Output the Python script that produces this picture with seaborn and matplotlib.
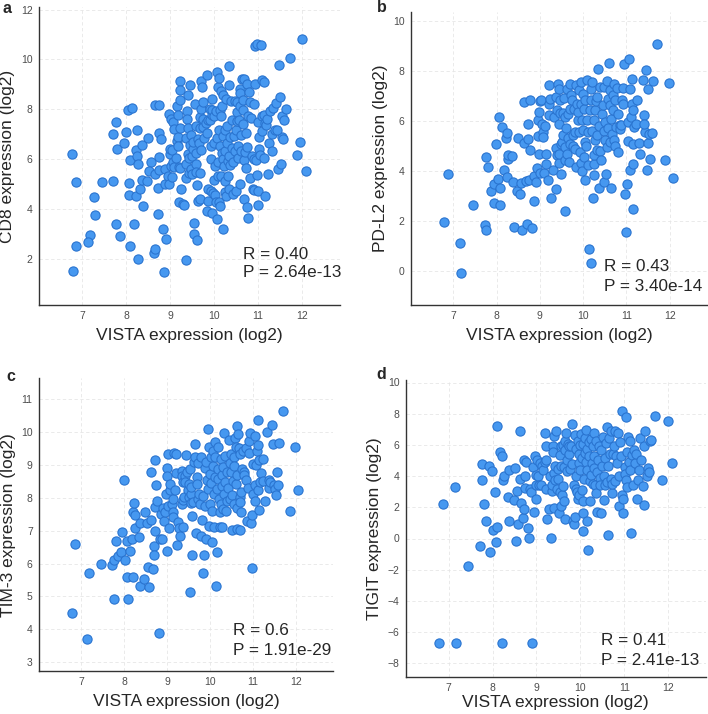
import matplotlib
matplotlib.use('Agg')
import matplotlib.pyplot as plt
import seaborn as sns
import pandas as pd

# panel a: VISTA vs CD8
vista_a = [6.78, 6.87, 6.87, 6.79, 7.27, 7.29, 7.17, 7.14, 7.46, 7.70, 7.71, 7.77, 7.80, 7.77, 7.86, 7.95,
           8.01, 8.04, 8.13, 8.06, 8.07, 8.09, 8.09, 8.19, 8.22, 8.23, 8.25, 8.26, 8.27, 8.27, 8.31, 8.37,
           8.37, 8.39, 8.48, 8.51, 8.56, 8.53, 8.63, 8.66, 8.66, 8.66, 8.75, 8.73, 8.73, 8.75, 8.76, 8.76,
           8.80, 8.83, 8.86, 8.88, 8.88, 8.91, 8.95, 8.97, 8.97, 9.00, 9.00, 9.02, 9.02, 9.04, 9.05, 9.06,
           9.07, 9.08, 9.10, 9.13, 9.15, 9.16, 9.17, 9.17, 9.19, 9.20, 9.22, 9.23, 9.23, 9.23, 9.23, 9.21,
           9.26, 9.29, 9.31, 9.36, 9.36, 9.37, 9.37, 9.39, 9.39, 9.40, 9.41, 9.41, 9.43, 9.44, 9.45, 9.45,
           9.47, 9.47, 9.49, 9.50, 9.52, 9.53, 9.54, 9.55, 9.57, 9.58, 9.58, 9.59, 9.59, 9.61, 9.61, 9.63,
           9.64, 9.65, 9.67, 9.67, 9.69, 9.69, 9.70, 9.70, 9.71, 9.72, 9.74, 9.74, 9.76, 9.77, 9.81, 9.83,
           9.83, 9.85, 9.86, 9.87, 9.87, 9.90, 9.91, 9.93, 9.93, 9.94, 9.95, 9.96, 9.96, 9.96, 9.97, 9.99,
           10.00, 10.00, 10.02, 10.03, 10.05, 10.05, 10.06, 10.06, 10.07, 10.08, 10.09, 10.10, 10.11, 10.12,
           10.12, 10.13, 10.14, 10.14, 10.15, 10.15, 10.16, 10.18, 10.18, 10.20, 10.20, 10.21, 10.21, 10.23,
           10.24, 10.25, 10.25, 10.26, 10.28, 10.28, 10.29, 10.30, 10.31, 10.31, 10.33, 10.34, 10.35, 10.35,
           10.37, 10.37, 10.39, 10.40, 10.40, 10.43, 10.44, 10.46, 10.47, 10.47, 10.49, 10.50, 10.52, 10.52,
           10.53, 10.54, 10.55, 10.56, 10.58, 10.59, 10.59, 10.60, 10.61, 10.62, 10.63, 10.65, 10.66, 10.67,
           10.68, 10.69, 10.69, 10.71, 10.72, 10.73, 10.75, 10.75, 10.76, 10.78, 10.78, 10.80, 10.81, 10.82,
           10.84, 10.86, 10.88, 10.90, 10.91, 10.92, 10.94, 10.94, 10.96, 10.97, 10.98, 10.99, 11.00, 11.01,
           11.03, 11.03, 11.05, 11.07, 11.09, 11.09, 11.10, 11.13, 11.13, 11.14, 11.15, 11.16, 11.18, 11.20,
           11.22, 11.26, 11.28, 11.32, 11.32, 11.35, 11.40, 11.39, 11.46, 11.47, 11.51, 11.52, 11.54, 11.55,
           11.57, 11.58, 11.63, 11.72, 11.89, 11.95, 12.00, 12.10, 11.43]
cd8 = [6.21, 5.10, 2.51, 1.51, 4.49, 3.76, 2.96, 2.67, 5.09, 5.12, 7.00, 7.49, 6.41, 3.38, 2.92, 6.63,
       7.09, 7.96, 8.07, 5.06, 4.54, 5.98, 2.51, 3.39, 4.51, 6.37, 6.14, 7.16, 5.82, 2.00, 4.82, 6.56,
       5.18, 4.11, 5.14, 6.83, 5.89, 5.54, 2.23, 2.40, 8.19, 5.42, 8.16, 3.78, 4.83, 7.04, 6.10, 5.58,
       6.82, 3.20, 1.47, 5.01, 5.60, 2.80, 5.34, 5.01, 7.82, 6.21, 6.41, 7.63, 5.73, 5.30, 6.38, 7.48,
       5.90, 5.68, 7.21, 6.06, 8.12, 6.72, 6.87, 7.79, 6.51, 5.68, 8.39, 9.13, 8.79, 7.25, 5.64, 4.27,
       4.80, 4.21, 4.17, 1.97, 5.25, 5.82, 6.85, 7.92, 7.63, 7.25, 8.59, 6.22, 6.06, 5.44, 6.56, 8.99,
       5.60, 6.95, 6.14, 5.40, 6.41, 6.68, 2.98, 3.44, 8.22, 6.25, 5.82, 7.32, 5.48, 2.74, 4.97, 6.82,
       4.31, 6.63, 7.25, 5.46, 4.38, 7.71, 6.38, 9.13, 8.03, 8.90, 8.28, 7.28, 7.63, 6.85, 7.45, 7.03,
       3.91, 9.37, 7.59, 4.81, 4.31, 8.02, 7.59, 6.52, 4.71, 6.01, 3.84, 8.42, 7.79, 7.99, 4.65, 5.16,
       7.75, 6.65, 5.72, 4.58, 7.95, 4.27, 9.49, 3.60, 6.85, 5.88, 5.32, 8.90, 7.16, 4.27,
       9.26, 6.52, 4.11, 7.99, 8.75, 5.34, 7.75, 8.12, 6.25, 3.20, 6.92, 8.59, 6.01, 5.72,
       4.68, 6.32, 5.14, 7.16, 4.51, 8.42, 6.65, 7.32, 5.32, 5.92, 8.97, 4.82, 9.73, 6.12,
       6.90, 5.76, 8.35, 7.59, 6.45, 4.62, 5.88, 6.92, 8.32, 6.34, 4.71, 7.16, 7.88, 7.52,
       8.28, 6.52, 6.05, 7.56, 5.01, 8.82, 8.12, 8.66, 6.96, 6.32, 9.23, 8.39, 7.99, 7.39,
       5.96, 4.41, 9.21, 6.28, 7.05, 5.65, 9.01, 4.07, 6.48, 3.64, 7.75, 8.68, 8.30, 5.25,
       7.66, 6.12, 4.81, 6.01, 4.78, 8.23, 9.01, 10.53, 5.98, 10.64, 5.38, 4.71, 7.49, 4.15,
       6.89, 6.41, 6.18, 10.58, 7.12, 7.75, 9.19, 6.06, 7.79, 9.09, 7.45, 4.51, 7.35, 7.63,
       5.40, 6.63, 7.92, 7.00, 6.32, 8.06, 8.26, 7.16, 5.61, 9.77, 8.50, 5.81, 6.89, 7.72,
       6.79, 7.56, 8.02, 10.06, 6.16, 6.68, 10.82, 5.54, 7.15]

# panel b: VISTA vs PD-L2
vista_b = [6.78, 6.87, 7.15, 7.17, 7.45, 7.72, 7.76, 7.76, 7.80, 7.86, 7.93, 7.95, 7.99, 8.02, 8.06, 8.08,
           8.08, 8.12, 8.18, 8.22, 8.23, 8.24, 8.26, 8.26, 8.36, 8.37, 8.39, 8.47, 8.50, 8.53, 8.56, 8.59,
           8.63, 8.63, 8.68, 8.70, 8.72, 8.73, 8.74, 8.76, 8.78, 8.82, 8.86, 8.87, 8.90, 8.93, 8.95, 8.96,
           8.99, 8.99, 9.00, 9.01, 9.03, 9.04, 9.06, 9.07, 9.09, 9.12, 9.13, 9.15, 9.18, 9.20, 9.21, 9.22,
           9.24, 9.26, 9.30, 9.33, 9.36, 9.37, 9.38, 9.39, 9.40, 9.41, 9.43, 9.43, 9.43, 9.45, 9.46, 9.47,
           9.48, 9.49, 9.51, 9.53, 9.54, 9.55, 9.57, 9.57, 9.58, 9.59, 9.60, 9.62, 9.63, 9.64, 9.65, 9.68,
           9.69, 9.70, 9.70, 9.72, 9.74, 9.76, 9.77, 9.78, 9.80, 9.82, 9.84, 9.84, 9.86, 9.87, 9.89, 9.90,
           9.91, 9.92, 9.94, 9.95, 9.95, 9.97, 9.97, 9.99, 10.00, 10.01, 10.03, 10.04, 10.05, 10.05, 10.07,
           10.08, 10.09, 10.10, 10.12, 10.14, 10.15, 10.17, 10.17, 10.18, 10.20, 10.21, 10.23, 10.24, 10.24,
           10.26, 10.26, 10.27, 10.28, 10.30, 10.31, 10.32, 10.32, 10.34, 10.36, 10.37, 10.38, 10.39, 10.41,
           10.43, 10.45, 10.47, 10.49, 10.49, 10.51, 10.51, 10.53, 10.54, 10.56, 10.57, 10.58, 10.60, 10.61,
           10.61, 10.63, 10.64, 10.65, 10.67, 10.68, 10.69, 10.71, 10.71, 10.73, 10.74, 10.76, 10.78, 10.80,
           10.81, 10.84, 10.85, 10.88, 10.90, 10.91, 10.92, 10.95, 10.97, 10.99, 11.01, 11.03, 11.04, 11.05,
           11.08, 11.09, 11.11, 11.12, 11.12, 11.14, 11.15, 11.16, 11.16, 11.18, 11.22, 11.24, 11.28, 11.32,
           11.38, 11.40, 11.43, 11.45, 11.47, 11.49, 11.50, 11.53, 11.55, 11.58, 11.61, 11.71, 11.88, 11.99,
           12.08, 11.41]
pdl2 = [1.93, 3.87, 1.09, -0.11, 2.63, 1.84, 1.64, 4.55, 4.16, 3.17, 3.47, 2.72, 5.08, 3.67, 6.16, 2.61,
        3.31, 5.75, 4.03, 5.33, 3.73, 5.53, 4.49, 4.63, 4.60, 3.55, 1.76, 3.20, 5.33, 3.07, 3.52, 1.63,
        6.76, 5.13, 3.59, 1.88, 5.29, 5.89, 3.63, 6.83, 4.83, 1.71, 2.80, 3.79, 3.53, 4.09, 5.39, 6.03,
        6.36, 4.67, 3.89, 6.80, 6.85, 5.87, 5.56, 5.36, 3.92, 5.79, 4.68, 4.29, 3.63, 6.67, 6.23, 7.43,
        6.89, 2.89, 4.03, 6.16, 3.25, 4.92, 6.96, 6.45, 4.63, 7.49, 7.29, 4.32, 5.87, 4.68, 6.83, 6.32,
        3.87, 5.09, 5.16, 6.32, 5.43, 6.93, 4.45, 6.16, 2.40, 4.96, 5.73, 4.67, 7.29, 5.33, 6.29, 4.37,
        7.49, 5.09, 6.49, 7.03, 6.85, 5.43, 5.00, 6.49, 5.56, 4.89, 4.16, 7.43, 6.69, 6.03, 6.36, 7.25,
        5.56, 4.76, 4.33, 6.69, 7.56, 6.05, 4.00, 5.65, 7.09, 4.56, 6.49, 3.63, 6.83, 5.16, 5.00,
        7.63, 6.03, 5.56, 4.23, 0.85, 6.43, 7.29, 6.83, 0.29, 5.60, 7.56, 2.89, 4.29, 6.03,
        3.83, 4.63, 6.43, 5.23, 6.80, 4.83, 5.43, 6.96, 8.09, 3.29, 5.79, 7.36, 4.80, 4.45,
        6.29, 6.63, 3.56, 7.36, 5.60, 5.25, 5.96, 3.87, 4.96, 7.59, 6.87, 5.73, 8.32, 6.63,
        5.16, 7.25, 3.29, 6.09, 5.49, 7.03, 6.43, 5.25, 7.47, 6.83, 5.00, 5.76, 7.33, 4.76,
        6.29, 5.83, 5.69, 5.83, 6.85, 7.33, 6.69, 8.29, 3.05, 1.56, 3.47, 5.96, 5.19, 8.49,
        4.03, 7.29, 6.16, 7.67, 6.67, 6.45, 5.09, 2.47, 4.29, 5.76, 5.87, 6.83, 5.12, 4.67,
        7.65, 6.23, 5.56, 8.03, 4.03, 7.29, 5.12, 5.49, 4.49, 5.52, 7.60, 9.07, 4.43, 7.52,
        3.69, 5.87]

# panel c: VISTA vs TIM-3
vista_c = [6.78, 6.87, 7.15, 7.18, 7.46, 7.71, 7.76, 7.76, 7.81, 7.87, 7.93, 7.96, 7.99, 8.03, 8.06, 8.07,
           8.09, 8.13, 8.18, 8.22, 8.20, 8.24, 8.26, 8.25, 8.36, 8.37, 8.37, 8.47, 8.50, 8.53, 8.55, 8.59,
           8.62, 8.64, 8.67, 8.70, 8.71, 8.72, 8.73, 8.73, 8.74, 8.78, 8.82, 8.84, 8.86, 8.88, 8.90, 8.94,
           8.95, 8.97, 8.99, 9.01, 9.01, 9.02, 9.03, 9.05, 9.07, 9.08, 9.11, 9.13, 9.14, 9.15, 9.16, 9.18,
           9.21, 9.22, 9.24, 9.26, 9.28, 9.30, 9.34, 9.35, 9.36, 9.37, 9.38, 9.38, 9.40, 9.41, 9.43, 9.45,
           9.47, 9.49, 9.51, 9.52, 9.53, 9.54, 9.55, 9.55, 9.57, 9.58, 9.59, 9.61, 9.62, 9.65, 9.66, 9.67,
           9.69, 9.70, 9.72, 9.72, 9.74, 9.76, 9.79, 9.80, 9.82, 9.84, 9.85, 9.86, 9.88, 9.89, 9.92, 9.92,
           9.93, 9.95, 9.96, 9.97, 9.98, 10.00, 10.01, 10.02, 10.03, 10.05, 10.06, 10.07, 10.08, 10.09,
           10.09, 10.11, 10.13, 10.13, 10.15, 10.16, 10.17, 10.19, 10.19, 10.20, 10.21, 10.23, 10.23, 10.25,
           10.26, 10.27, 10.28, 10.29, 10.30, 10.31, 10.33, 10.33, 10.35, 10.36, 10.38, 10.40, 10.40, 10.42,
           10.44, 10.46, 10.47, 10.48, 10.50, 10.51, 10.52, 10.53, 10.55, 10.56, 10.57, 10.59, 10.60, 10.61,
           10.62, 10.63, 10.63, 10.64, 10.66, 10.67, 10.69, 10.69, 10.70, 10.71, 10.73, 10.73, 10.75, 10.77,
           10.79, 10.80, 10.83, 10.84, 10.87, 10.89, 10.90, 10.92, 10.94, 10.96, 10.97, 10.98, 11.00, 11.01,
           11.04, 11.04, 11.06, 11.07, 11.09, 11.11, 11.11, 11.13, 11.14, 11.15, 11.17, 11.19, 11.23, 11.24,
           11.28, 11.34, 11.37, 11.38, 11.41, 11.44, 11.48, 11.50, 11.52, 11.54, 11.56, 11.58, 11.60, 11.69,
           11.86, 11.98, 12.06]
tim3 = [4.49, 6.59, 3.71, 5.70, 5.99, 5.97, 6.11, 4.93, 6.69, 6.22, 6.36, 6.96, 8.53, 6.12, 5.60, 6.69,
        4.92, 6.37, 6.75, 5.60, 7.56, 7.84, 7.49, 7.07, 6.80, 5.31, 7.24, 5.53, 7.57, 7.23, 5.91, 5.28,
        7.32, 8.80, 5.84, 6.54, 6.27, 6.98, 7.71, 9.16, 8.38, 7.91, 3.88, 6.75, 7.51, 6.75, 7.69, 7.30,
        7.56, 8.13, 8.90, 6.39, 8.67, 7.76, 9.32, 7.08, 8.24, 8.42, 7.81, 7.58, 7.43, 7.96, 9.35, 8.24,
        8.74, 9.33, 6.57, 7.25, 7.07, 6.85, 7.81, 8.82, 8.67, 8.47, 7.12, 7.93, 8.01, 8.67, 8.47, 9.30,
        8.77, 8.24, 8.42, 8.03, 5.13, 8.87, 7.83, 8.13, 8.32, 6.27, 7.46, 7.86, 9.10, 9.25, 9.65, 6.92,
        8.62, 8.42, 9.05, 7.96, 8.11, 7.81, 9.23, 6.85, 7.32, 8.06, 5.70, 6.27, 8.92, 7.76, 9.08, 6.75,
        8.54, 10.09, 8.27, 7.15, 9.53, 8.72, 7.81, 9.23, 8.44, 6.65, 7.61, 8.97, 9.43, 7.10,
        8.11, 8.64, 9.71, 9.23, 5.33, 6.34, 8.27, 9.55, 8.87, 8.57, 7.96, 7.12, 7.56, 9.18,
        7.81, 8.70, 8.37, 7.12, 8.94, 7.66, 9.96, 8.11, 8.47, 9.28, 7.61, 8.77, 7.91, 8.30,
        9.75, 9.05, 7.96, 8.77, 9.33, 7.02, 8.09, 8.50, 9.23, 7.81, 8.97, 9.83, 9.53, 8.42,
        7.69, 10.17, 7.05, 8.70, 9.94, 9.51, 7.02, 9.33, 8.03, 7.86, 8.19, 7.56, 8.87, 9.41,
        8.77, 8.70, 9.51, 8.54, 7.30, 8.29, 9.73, 9.35, 9.96, 7.22, 7.49, 5.87, 8.11, 9.03,
        9.87, 7.91, 8.39, 9.01, 9.41, 9.61, 8.24, 10.36, 9.15, 7.63, 8.47, 8.74, 9.18, 8.50,
        7.91, 9.99, 8.54, 8.30, 8.47, 10.22, 9.65, 8.40, 8.27, 8.08, 8.80, 8.40, 9.68, 10.65,
        7.59, 9.55, 8.24]

# panel d: VISTA vs TIGIT
vista_d = [6.86, 6.78, 7.16, 7.14, 7.45, 7.71, 7.76, 7.76, 7.80, 7.84, 7.92, 7.93, 7.99, 8.02, 8.05, 8.07,
           8.09, 8.11, 8.16, 8.21, 8.21, 8.24, 8.25, 8.34, 8.37, 8.38, 8.49, 8.51, 8.53, 8.56, 8.59, 8.63,
           8.63, 8.65, 8.69, 8.71, 8.71, 8.73, 8.74, 8.77, 8.81, 8.84, 8.86, 8.88, 8.90, 8.92, 8.94, 8.96,
           8.98, 8.99, 9.00, 9.02, 9.04, 9.06, 9.09, 9.11, 9.13, 9.15, 9.19, 9.20, 9.21, 9.22, 9.22, 9.24,
           9.28, 9.30, 9.34, 9.36, 9.36, 9.37, 9.37, 9.39, 9.40, 9.41, 9.42, 9.43, 9.45, 9.47, 9.48, 9.50,
           9.51, 9.53, 9.53, 9.55, 9.56, 9.57, 9.59, 9.60, 9.60, 9.62, 9.63, 9.64, 9.66, 9.66, 9.68, 9.69,
           9.70, 9.72, 9.74, 9.75, 9.77, 9.79, 9.81, 9.82, 9.83, 9.85, 9.85, 9.87, 9.88, 9.89, 9.91, 9.91,
           9.92, 9.94, 9.94, 9.96, 9.97, 9.98, 9.99, 10.00, 10.01, 10.03, 10.04, 10.05, 10.06, 10.07, 10.07,
           10.08, 10.10, 10.10, 10.12, 10.13, 10.14, 10.15, 10.16, 10.18, 10.19, 10.20, 10.22, 10.23, 10.24,
           10.25, 10.27, 10.28, 10.29, 10.30, 10.31, 10.32, 10.34, 10.35, 10.36, 10.38, 10.39, 10.41, 10.42,
           10.44, 10.45, 10.47, 10.48, 10.50, 10.51, 10.53, 10.54, 10.56, 10.57, 10.59, 10.60, 10.61, 10.63,
           10.64, 10.66, 10.67, 10.69, 10.70, 10.72, 10.73, 10.75, 10.76, 10.78, 10.80, 10.82, 10.83, 10.85,
           10.87, 10.89, 10.91, 10.92, 10.94, 10.95, 10.97, 10.98, 11.01, 11.02, 11.03, 11.04, 11.06, 11.07,
           11.09, 11.10, 11.12, 11.13, 11.15, 11.17, 11.20, 11.22, 11.24, 11.26, 11.29, 11.31, 11.33, 11.36,
           11.39, 11.42, 11.45, 11.46, 11.48, 11.51, 11.54, 11.56, 11.58, 11.61, 11.70, 11.86, 11.99, 12.08]
tigit = [2.21, -6.67, -6.67, 3.27, -1.78, -0.49, 4.80, 3.76, 2.21, 1.10, 4.67, -0.85, 4.31, 0.55, 2.95, -0.25,
         0.76, 7.22, 5.52, 5.31, -6.67, 3.74, 4.03, 2.63, 1.15, 4.42, 2.46, 4.52, -0.17, 3.04, 0.93, 6.86,
         3.82, 2.29, 1.30, 5.01, 1.87, 3.25, 4.03, 4.88, 0.68, 0.06, 3.18, 2.97, -6.67, 4.56, 1.72, 5.31,
         3.46, 4.10, 2.55, 5.05, 3.99, 3.40, 4.84, 3.40, 4.63, 4.42, 4.88, 6.79, 3.18, 5.05, 5.94, 1.23,
         1.87, 4.03, 0.06, 3.04, 3.46, 5.90, 5.54, 4.20, 1.97, 6.54, 3.74, 4.63, 6.92, 3.18, 4.46, 3.82,
         1.66, 5.33, 2.97, 4.63, 5.94, 2.08, 2.76, 3.35, 5.99, 4.59, 2.40, 6.22, 1.23, 5.65, 6.79, 4.31,
         5.05, 6.07, 5.44, 5.94, 4.46, 5.90, 4.80, 7.35, 1.13, 0.91, 3.46, 1.40, 6.65, 3.18, 4.03, 5.73,
         2.97, 6.28, 2.51, 4.84, 5.44, 2.82, 5.99, 4.42, 6.71, 5.16, 3.10, 0.49, 6.07, 1.66, 2.40,
         3.82, 5.48, 6.43, 4.88, 6.96, 1.13, 5.73, 4.42, -0.72, 6.16, 5.31, 3.67, 2.40, 6.37,
         4.10, 4.84, 3.52, 5.94, 6.75, 4.52, 5.31, 3.40, 2.93, 6.22, 4.25, 1.70, 5.01, 5.90,
         3.89, 3.40, 1.66, 5.65, 4.63, 6.50, 2.46, 3.99, 5.16, 3.40, 6.11, 7.13, 3.61, 4.67,
         0.23, 6.43, 5.44, 6.92, 3.82, 2.89, 3.52, 5.44, 5.94, 6.86, 3.67, 5.31, 4.84, 6.75,
         3.99, 2.08, 6.16, 5.31, 2.76, 8.20, 2.55, 1.66, 4.59, 4.16, 3.78, 7.81, 3.31, 5.52,
         6.50, 4.88, 6.22, 4.42, 0.34, 5.37, 3.40, 5.65, 4.84, 5.44, 2.55, 3.78, 4.42, 6.43,
         5.05, 3.35, 2.12, 5.90, 6.86, 4.03, 4.52, 4.25, 6.22, 6.33, 7.86, 3.74, 7.56, 4.84]

xticks = [7, 8, 9, 10, 11, 12]
sns.set_style('white')
plt.rcParams['font.family'] = ['Liberation Sans', 'DejaVu Sans']

fig = plt.figure(figsize=(7.08, 7.14), dpi=100)


def draw_panel(rect, x, y, ylabel, yticks, ylim, letter, letter_xy, r_text, p_text, txt_x, txt_y,
               xpad=5):
    ax = fig.add_axes(rect)
    df = pd.DataFrame({'VISTA': x, 'gene': y})
    sns.scatterplot(x='VISTA', y='gene', data=df, ax=ax, s=44, color='#4698f0',
                    edgecolor='#2a74d0', linewidth=0.8, zorder=3)
    ax.set_xlim(6.02, 12.86)
    ax.set_ylim(*ylim)
    ax.set_xticks(xticks)
    ax.set_yticks(yticks)
    ax.grid(True, ls=(0, (4, 3)), color='#e6e6e6', lw=0.6, zorder=0)
    for side in ['top', 'right']:
        ax.spines[side].set_visible(False)
    for side in ['left', 'bottom']:
        ax.spines[side].set_color('#333333')
        ax.spines[side].set_linewidth(1.0)
    ax.tick_params(axis='both', labelsize=7.5, labelcolor='#4d4d4d', length=2.5,
                   width=0.6, color='#555555', pad=2)
    ax.set_xlabel('VISTA expression (log2)', fontsize=12.5, labelpad=xpad)
    ax.set_ylabel(ylabel, fontsize=12.5, labelpad=4)
    ax.text(txt_x, txt_y[0], r_text, fontsize=12.3, va='center')
    ax.text(txt_x, txt_y[1], p_text, fontsize=12.3, va='center')
    fig.text(letter_xy[0], letter_xy[1], letter, fontsize=11.5, fontweight='bold',
             ha='left', va='center')
    return ax


draw_panel([0.055, 0.573, 0.425, 0.417], vista_a, cd8, 'CD8 expression (log2)',
           [2, 4, 6, 8, 10, 12], (0.15, 12.1), 'a', (0.003, 0.988),
           'R = 0.40', 'P = 2.64e-13', 10.65, (2.17, 1.44))
draw_panel([0.5805, 0.573, 0.418, 0.410], vista_b, pdl2, 'PD-L2 expression (log2)',
           [0, 2, 4, 6, 8, 10], (-1.37, 10.35), 'b', (0.532, 0.990),
           'R = 0.43', 'P = 3.40e-14', 10.47, (0.16, -0.64))
draw_panel([0.055, 0.060, 0.415, 0.410], vista_c, tim3, 'TIM-3 expression (log2)',
           [3, 4, 5, 6, 7, 8, 9, 10, 11], (2.73, 11.63), 'c', (0.009, 0.473),
           'R = 0.6', 'P = 1.91e-29', 10.53, (3.98, 3.35))
draw_panel([0.573, 0.052, 0.424, 0.416], vista_d, tigit, 'TIGIT expression (log2)',
           [-8, -6, -4, -2, 0, 2, 4, 6, 8, 10], (-8.87, 10.17), 'd', (0.531, 0.476),
           'R = 0.41', 'P = 2.41e-13', 10.47, (-6.52, -7.79), xpad=1.5)

fig.savefig('out.png', dpi=100)
